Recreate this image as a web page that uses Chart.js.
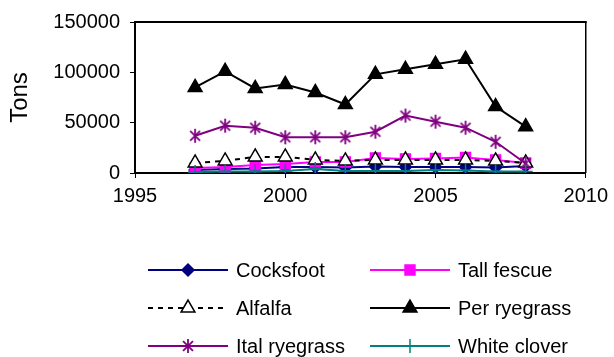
<!DOCTYPE html>
<html>
<head>
<meta charset="utf-8">
<script src="https://cdn.jsdelivr.net/npm/chart.js@4"></script>
<style>
  html, body { margin: 0; padding: 0; background: #fff; }
  #wrap { width: 614px; height: 357px; position: relative; }
</style>
</head>
<body>
<div id="wrap"><canvas id="c"></canvas></div>
<script>
// Forage crop production (tons) by year
const years = [1997, 1998, 1999, 2000, 2001, 2002, 2003, 2004, 2005, 2006, 2007, 2008];
const cocksfoot   = [3000, 4000, 4500, 6000, 6000, 5500, 6500, 6000, 6000, 6000, 5500, 7000];
const tallFescue  = [5000, 6000, 8000, 9000, 11000, 11000, 15000, 14000, 14500, 15500, 13000, 10000];
const alfalfa     = [10000, 12000, 16000, 16000, 13000, 12000, 13000, 13000, 13000, 13000, 12000, 10000];
const perRyegrass = [85000, 101000, 84000, 88000, 80000, 68000, 98000, 103000, 108000, 113000, 66000, 46000];
const italRyegrass = [37000, 47000, 45000, 35500, 35500, 35500, 41000, 57000, 51000, 45000, 31000, 9500];
const whiteClover = [1000, 1500, 1500, 2000, 4000, 2000, 2000, 2000, 3000, 2500, 1500, 1500];
const seriesNames = ['Cocksfoot', 'Tall fescue', 'Alfalfa', 'Per ryegrass', 'Ital ryegrass', 'White clover'];
const xTicks = [1995, 2000, 2005, 2010];
const yTicks = [0, 50000, 100000, 150000];

const FONT = '"Liberation Sans", Arial, sans-serif';

// asterisk marker: an X with a vertical stroke
function makeAsterisk(color, r) {
  const s = Math.ceil(r * 2 + 4);
  const cv = document.createElement('canvas');
  cv.width = s; cv.height = s;
  const g = cv.getContext('2d');
  const c = s / 2, d = r * Math.SQRT1_2;
  g.strokeStyle = color; g.lineWidth = 1.8;
  g.beginPath();
  g.moveTo(c, c - r); g.lineTo(c, c + r);
  g.moveTo(c - d, c - d); g.lineTo(c + d, c + d);
  g.moveTo(c - d, c + d); g.lineTo(c + d, c - d);
  g.stroke();
  return cv;
}

function pts(vals) { return years.map((y, i) => ({ x: y, y: vals[i] })); }

const styles = [
  { data: cocksfoot,   color: '#000080', fill: '#000080', pointStyle: 'rectRot',  radius: 6,   dash: [] },
  { data: tallFescue,  color: '#FF00FF', fill: '#FF00FF', pointStyle: 'rect',     radius: 7,   dash: [] },
  { data: alfalfa,     color: '#000000', fill: '#FFFFFF', pointStyle: 'triangle', radius: 8,   dash: [5, 5] },
  { data: perRyegrass, color: '#000000', fill: '#000000', pointStyle: 'triangle', radius: 8,   dash: [] },
  { data: italRyegrass, color: '#800080', fill: '#800080', pointStyle: makeAsterisk('#800080', 7), radius: 7, dash: [] },
  { data: whiteClover, color: '#008080', fill: '#008080', pointStyle: 'cross',    radius: 7,   dash: [] }
];

const datasets = styles.map((s, i) => ({
  label: seriesNames[i],
  data: pts(s.data),
  borderColor: s.color,
  backgroundColor: s.fill,
  borderWidth: 2,
  borderDash: s.dash,
  pointStyle: s.pointStyle,
  pointRadius: s.radius,
  pointHoverRadius: s.radius,
  pointBorderColor: s.color,
  pointBackgroundColor: s.fill,
  pointBorderWidth: 1.5,
  tension: 0,
  order: styles.length - i
}));

// top and right edges of the plot frame
const framePlugin = {
  id: 'frame',
  afterDatasetsDraw(chart) {
    const { ctx, chartArea: a } = chart;
    ctx.save();
    ctx.strokeStyle = '#000';
    ctx.lineWidth = 2;
    ctx.beginPath();
    ctx.moveTo(a.left, a.top); ctx.lineTo(a.right + 1, a.top);
    ctx.stroke();
    ctx.lineWidth = 1.5;
    ctx.beginPath();
    ctx.moveTo(a.right, a.top); ctx.lineTo(a.right, a.bottom);
    ctx.stroke();
    ctx.restore();
  }
};

// two-column legend under the plot
const legendPlugin = {
  id: 'twoColLegend',
  afterDraw(chart) {
    const { ctx } = chart;
    const cols = [148, 370], rows = [270, 308, 346], lineLen = 80, gap = 8;
    ctx.save();
    ctx.font = '20px ' + FONT;
    ctx.textBaseline = 'middle';
    ctx.textAlign = 'left';
    chart.data.datasets.forEach((ds, i) => {
      const x = cols[i % 2], y = rows[Math.floor(i / 2)];
      ctx.strokeStyle = ds.borderColor;
      ctx.lineWidth = 2;
      ctx.setLineDash(ds.borderDash || []);
      ctx.beginPath();
      ctx.moveTo(x, y); ctx.lineTo(x + lineLen, y);
      ctx.stroke();
      ctx.setLineDash([]);
      ctx.fillStyle = ds.pointBackgroundColor;
      ctx.strokeStyle = ds.pointBorderColor;
      ctx.lineWidth = ds.pointBorderWidth;
      Chart.helpers.drawPoint(ctx, {
        pointStyle: ds.pointStyle, radius: ds.pointRadius, rotation: 0, borderWidth: ds.pointBorderWidth
      }, x + lineLen / 2, y);
      ctx.fillStyle = '#000';
      ctx.fillText(ds.label, x + lineLen + gap, y + 1);
    });
    ctx.restore();
  }
};

new Chart(document.getElementById('c'), {
  type: 'line',
  data: { datasets },
  options: {
    responsive: true,
    maintainAspectRatio: false,
    animation: false,
    events: [],
    layout: { padding: { left: 0, right: 25, top: 19, bottom: 0 } },
    plugins: { legend: { display: false }, tooltip: { enabled: false } },
    scales: {
      x: {
        type: 'linear',
        min: xTicks[0], max: xTicks[xTicks.length - 1],
        afterBuildTicks: s => { s.ticks = xTicks.map(v => ({ value: v })); },
        afterFit: s => { s.height = 184; },
        grid: { drawOnChartArea: false, drawTicks: true, tickLength: 5, color: '#000', lineWidth: 1 },
        border: { display: true, color: '#000', width: 2 },
        ticks: { color: '#000', font: { family: FONT, size: 20 }, padding: 6, maxRotation: 0, callback: v => String(v) }
      },
      y: {
        min: yTicks[0], max: yTicks[yTicks.length - 1],
        afterBuildTicks: s => { s.ticks = yTicks.map(v => ({ value: v })); },
        afterFit: s => { s.width = 135; },
        grid: { drawOnChartArea: false, drawTicks: true, tickLength: 5, color: '#000', lineWidth: 1 },
        border: { display: true, color: '#000', width: 2 },
        ticks: { color: '#000', font: { family: FONT, size: 20 }, padding: 10, callback: v => String(v) },
        title: { display: true, text: 'Tons', color: '#000', font: { family: FONT, size: 24 }, padding: { top: 6, bottom: 0 } }
      }
    }
  },
  plugins: [framePlugin, legendPlugin]
});
</script>
</body>
</html>
